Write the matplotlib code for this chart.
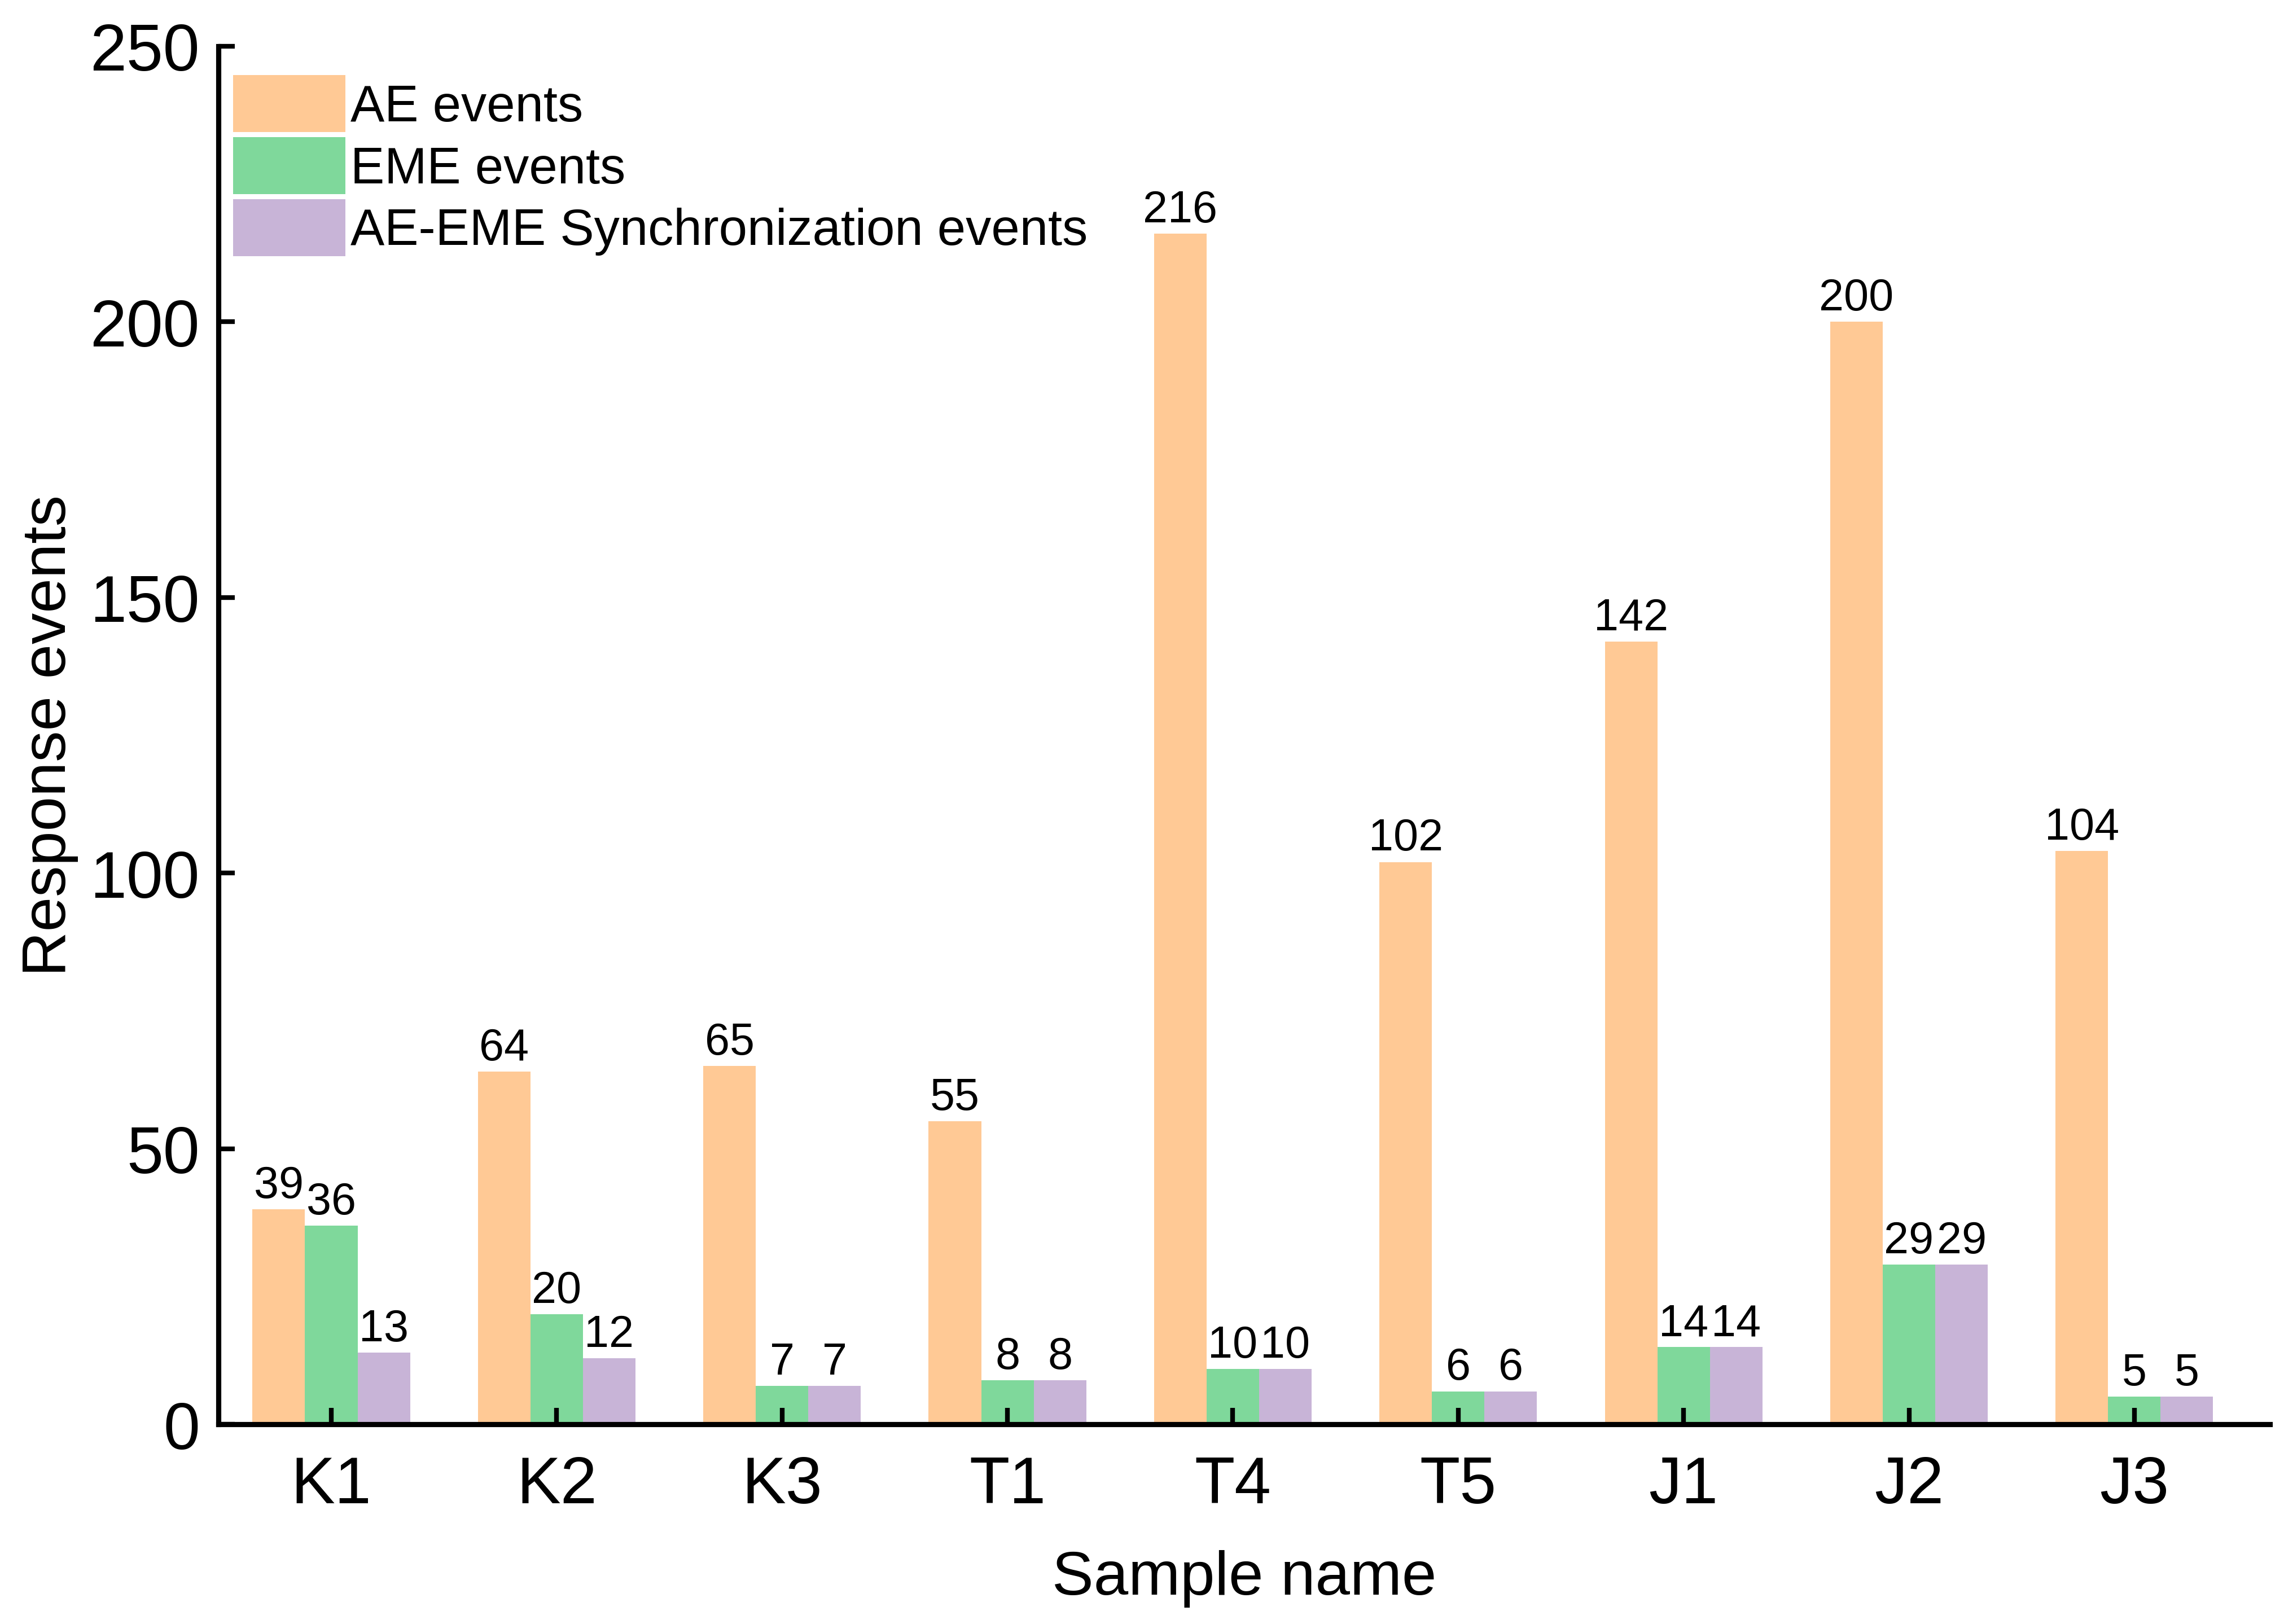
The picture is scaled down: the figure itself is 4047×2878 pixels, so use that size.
import numpy as np
import matplotlib
matplotlib.use('Agg')
import matplotlib.pyplot as plt

plt.rcParams['font.family'] = ['Liberation Sans', 'DejaVu Sans']

samples = ['K1', 'K2', 'K3', 'T1', 'T4', 'T5', 'J1', 'J2', 'J3']
ae_events = [39, 64, 65, 55, 216, 102, 142, 200, 104]
eme_events = [36, 20, 7, 8, 10, 6, 14, 29, 5]
sync_events = [13, 12, 7, 8, 10, 6, 14, 29, 5]

series = [
  ('AE events', ae_events, '#FFC995'),
  ('EME events', eme_events, '#7FD89B'),
  ('AE-EME Synchronization events', sync_events, '#C8B4D7'),
]

fig = plt.figure(figsize=(4047 / 300, 2879 / 300), dpi=300)
ax = fig.add_axes([0.0957, 0.1229, 0.898, 0.8484])

x = np.arange(len(samples))
width = 0.233
for i, (name, vals, color) in enumerate(series):
  bars = ax.bar(x + (i - 1) * width, vals, width, color=color, label=name)
  ax.bar_label(bars, labels=[str(v) for v in vals], padding=1, fontsize=19)

ax.set_xlim(-0.5, 8.6)
ax.set_ylim(0, 250)
ax.set_xticks(x)
ax.set_xticklabels(samples)
ax.set_yticks([0, 50, 100, 150, 200, 250])

for side in ['top', 'right']:
  ax.spines[side].set_visible(False)
for side in ['left', 'bottom']:
  ax.spines[side].set_linewidth(2.2)

ax.tick_params(direction='in', length=7, width=2.0, labelsize=28)
ax.tick_params(axis='x', pad=13)
ax.tick_params(axis='y', pad=8)
ax.set_xlabel('Sample name', fontsize=26.5, labelpad=14)
ax.set_ylabel('Response events', fontsize=26.5, labelpad=5)

ax.legend(loc='upper left', bbox_to_anchor=(0.007, 0.979), frameon=False,
          fontsize=21.7, handlelength=2.2, handleheight=1.34,
          labelspacing=0.1, handletextpad=0.1, borderaxespad=0,
          borderpad=0)

fig.savefig('out.png', dpi=300)
